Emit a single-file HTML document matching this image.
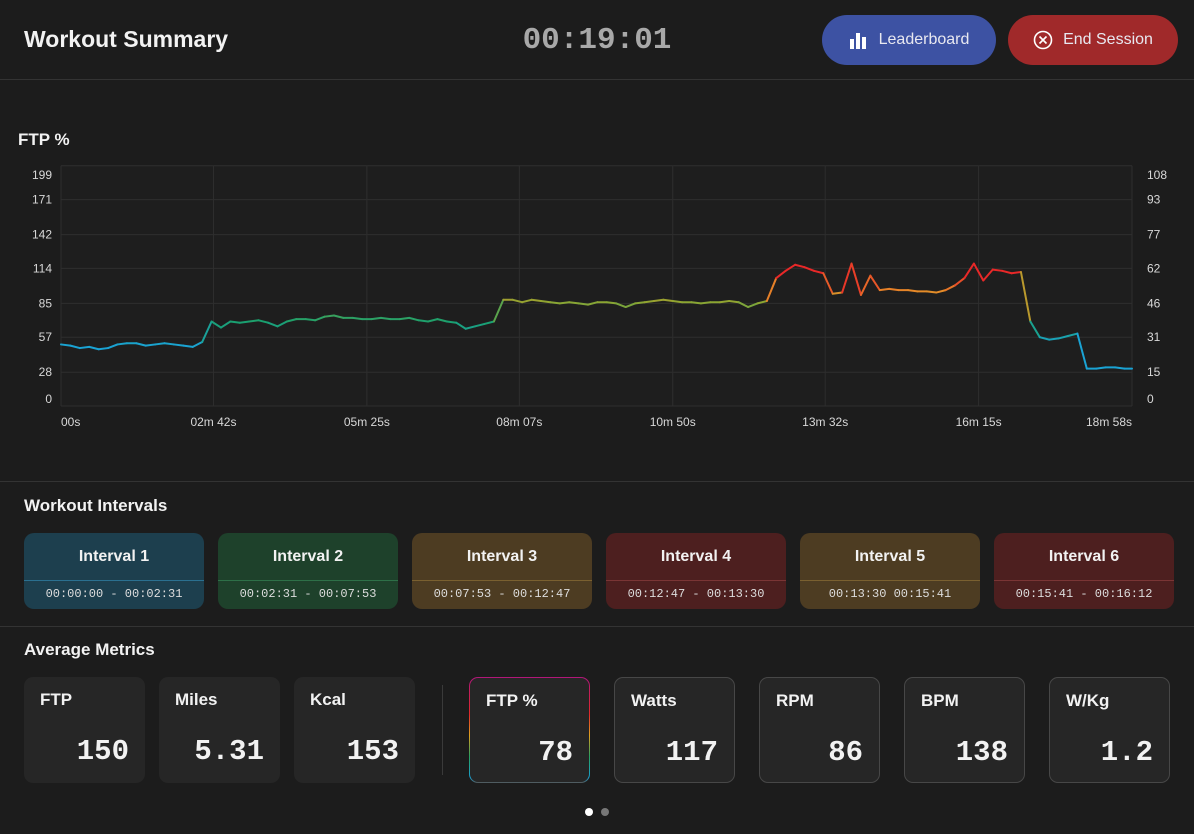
<!DOCTYPE html>
<html><head><meta charset="utf-8"><style>
*{box-sizing:border-box;margin:0;padding:0}
body{width:1194px;height:834px;background:#1c1c1c;font-family:"Liberation Sans",sans-serif;color:#f2f2f2;position:relative;overflow:hidden}
.abs{position:absolute}
.h{font-weight:bold;font-size:17px}
.btn{position:absolute;top:15px;height:50px;border-radius:25px;color:#e8e8f0;font-size:16px;display:flex;align-items:center;justify-content:center;gap:10px}
.iv{position:absolute;top:533px;width:180px;height:76px;border-radius:10px;overflow:hidden}
.iv .t{height:48px;line-height:48px;text-align:center;font-weight:bold;font-size:16px;border-bottom:1px solid rgba(255,255,255,.25)}
.iv .s{height:27px;line-height:27px;text-align:center;font-family:"Liberation Mono",monospace;font-size:12px;color:#ddd}
.mc{position:absolute;top:677px;width:121px;height:106px;border-radius:9px;background:#262626}
.mc.b{border:1px solid #474747}
.mc .l{position:absolute;left:16px;top:13px;font-weight:bold;font-size:17px}
.mc .v{position:absolute;right:16px;top:58px;font-family:"Liberation Mono",monospace;font-weight:bold;font-size:29px}
</style></head><body>
<div class="abs" style="left:0;top:0;width:1194px;height:80px;border-bottom:1px solid #333"></div>
<div class="abs" style="left:24px;top:26px;font-size:23px;font-weight:bold">Workout Summary</div>
<div class="abs" style="left:497px;top:23px;width:200px;text-align:center;font-family:'Liberation Mono',monospace;font-weight:bold;font-size:31px;color:#a8a8a8">00:19:01</div>
<div class="btn" style="left:822px;width:174px;background:#3d52a3"><svg width="20" height="18"><rect x="1" y="8" width="4" height="10" fill="#fff"/><rect x="7" y="2" width="4" height="16" fill="#fff"/><rect x="13" y="6" width="4" height="12" fill="#fff"/></svg>Leaderboard</div>
<div class="btn" style="left:1008px;width:170px;background:#a0292a"><svg width="20" height="20"><circle cx="10" cy="10" r="8.5" stroke="#fff" stroke-width="1.6" fill="none"/><path d="M6.5 6.5L13.5 13.5M13.5 6.5L6.5 13.5" stroke="#fff" stroke-width="1.6"/></svg>End Session</div>

<div class="abs h" style="left:18px;top:130px">FTP %</div>
<svg id="chart" class="abs" style="left:0;top:150px" width="1194" height="290"></svg>

<div class="abs" style="left:0;top:481px;width:1194px;height:1px;background:#333"></div>
<div class="abs h" style="left:24px;top:496px">Workout Intervals</div>
<div class="iv" style="left:24px;background:#1d3f4e"><div class="t" style="border-color:#2b7090">Interval 1</div><div class="s">00:00:00 - 00:02:31</div></div>
<div class="iv" style="left:218px;background:#1e412b"><div class="t" style="border-color:#2e7048">Interval 2</div><div class="s">00:02:31 - 00:07:53</div></div>
<div class="iv" style="left:412px;background:#4d3c22"><div class="t" style="border-color:#7a6030">Interval 3</div><div class="s">00:07:53 - 00:12:47</div></div>
<div class="iv" style="left:606px;background:#4d1f1f"><div class="t" style="border-color:#7a3535">Interval 4</div><div class="s">00:12:47 - 00:13:30</div></div>
<div class="iv" style="left:800px;background:#4d3c22"><div class="t" style="border-color:#7a6030">Interval 5</div><div class="s">00:13:30 00:15:41</div></div>
<div class="iv" style="left:994px;background:#4d1f1f"><div class="t" style="border-color:#7a3535">Interval 6</div><div class="s">00:15:41 - 00:16:12</div></div>

<div class="abs" style="left:0;top:626px;width:1194px;height:1px;background:#333"></div>
<div class="abs h" style="left:24px;top:640px">Average Metrics</div>
<div class="mc" style="left:24px"><div class="l">FTP</div><div class="v">150</div></div>
<div class="mc" style="left:159px"><div class="l">Miles</div><div class="v">5.31</div></div>
<div class="mc" style="left:294px"><div class="l">Kcal</div><div class="v">153</div></div>
<div class="abs" style="left:442px;top:685px;width:1px;height:90px;background:#3a3a3a"></div>
<div class="mc" style="left:469px;border:1px solid transparent;background:linear-gradient(#262626,#262626) padding-box,linear-gradient(#b0177a,#e0282a 35%,#e0a020 55%,#28a060 75%,#1aa0d0 95%,#555) border-box"><div class="l">FTP %</div><div class="v">78</div></div>
<div class="mc b" style="left:614px"><div class="l">Watts</div><div class="v">117</div></div>
<div class="mc b" style="left:759px"><div class="l">RPM</div><div class="v">86</div></div>
<div class="mc b" style="left:904px"><div class="l">BPM</div><div class="v">138</div></div>
<div class="mc b" style="left:1049px"><div class="l">W/Kg</div><div class="v">1.2</div></div>
<div class="abs" style="left:585px;top:808px;width:8px;height:8px;border-radius:50%;background:#fff"></div>
<div class="abs" style="left:601px;top:808px;width:8px;height:8px;border-radius:50%;background:#777"></div>

<script>
const leftTicks=[0,28,57,85,114,142,171,199];
const rightTicks=[0,15,31,46,62,77,93,108];
const xTickLabels=["00s","02m 42s","05m 25s","08m 07s","10m 50s","13m 32s","16m 15s","18m 58s"];
const xTickSeconds=[0,162,325,487,650,812,975,1138];
const ftpValues=[51,50,48,49,47,48,51,52,52,50,51,52,51,50,49,53,70,65,70,69,70,71,69,66,70,72,72,71,74,75,73,73,72,72,73,72,72,73,71,70,72,70,69,64,66,68,70,88,88,86,88,87,86,85,86,85,84,86,86,85,82,85,86,87,88,87,86,86,85,86,86,87,86,82,85,87,106,112,117,115,112,110,93,94,118,92,108,96,97,96,96,95,95,94,96,100,106,118,104,113,112,110,111,70,57,55,56,58,60,31,31,32,32,31,31];
const totalSeconds=1138;
const NS="http://www.w3.org/2000/svg";
const svg=document.getElementById('chart');
const X0=61,X1=1132,Y0=256,PX=1.207; // svg top=150
function xs(t){return X0+(t/totalSeconds)*(X1-X0);}
function ys(v){return Y0-v*PX;}
function mk(tag,attrs){const e=document.createElementNS(NS,tag);for(const k in attrs)e.setAttribute(k,attrs[k]);svg.appendChild(e);return e;}
function txt(x,y,s,anchor){const t=mk('text',{x:x,y:y,fill:'#d8d8d8','font-size':12,'font-family':'Liberation Sans, sans-serif','text-anchor':anchor});t.textContent=s;return t;}
mk('rect',{x:X0,y:ys(199),width:X1-X0,height:199*PX,fill:'#1e1e1e'});
leftTicks.forEach((v,i)=>{
  const g=mk('line',{x1:X0,x2:X1,y1:ys(v),y2:ys(v),stroke:'#2e2e2e','stroke-width':1});
  
  
  let ly=ys(v)+4; if(i===0) ly=ys(v)-3; if(i===leftTicks.length-1) ly=ys(v)+13;
  const t=txt(52,ly,String(v),'end');
  
  
  const r=txt(1147,ly,String(rightTicks[i]),'start');
  
  
});
xTickSeconds.forEach((s,i)=>{
  const g=mk('line',{x1:xs(s),x2:xs(s),y1:ys(199),y2:ys(0),stroke:'#2e2e2e','stroke-width':1});
  
  
  const anchor=i===0?'start':(i===xTickSeconds.length-1?'end':'middle');
  const t=txt(xs(s),Y0+20,xTickLabels[i],anchor);
  
  
});
function col(v){
  const stops=[[50,[26,163,212]],[70,[26,160,110]],[86,[140,165,50]],[95,[230,140,40]],[108,[232,40,40]]];
  if(v<=stops[0][0])return 'rgb('+stops[0][1]+')';
  for(let i=1;i<stops.length;i++){if(v<=stops[i][0]){const a=stops[i-1],b=stops[i],f=(v-a[0])/(b[0]-a[0]);return 'rgb('+a[1].map((c,j)=>Math.round(c+(b[1][j]-c)*f))+')';}}
  return 'rgb('+stops[stops.length-1][1]+')';
}
for(let i=0;i<ftpValues.length-1;i++){
  const t0=Math.min(i*10,totalSeconds),t1=Math.min((i+1)*10,totalSeconds);
  const l=mk('line',{x1:xs(t0),y1:ys(ftpValues[i]),x2:xs(t1),y2:ys(ftpValues[i+1]),stroke:col((ftpValues[i]+ftpValues[i+1])/2),'stroke-width':2,'stroke-linecap':'round'});
  
  
}
</script>
</body></html>
